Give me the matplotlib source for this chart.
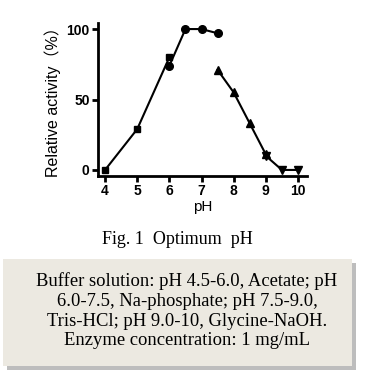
import matplotlib
matplotlib.use("Agg")
import matplotlib.pyplot as plt
from matplotlib.patches import Rectangle

# Data
acetate_ph = [4.0, 5.0, 6.0]
acetate_act = [0, 29, 80]
phosphate_ph = [6.0, 6.5, 7.0, 7.5]
phosphate_act = [74, 100, 100, 97]
tris_ph = [7.5, 8.0, 8.5, 9.0]
tris_act = [71, 55, 33, 11]
glycine_ph = [9.0, 9.5, 10.0]
glycine_act = [10, 0, 0]

xticks = [4, 5, 6, 7, 8, 9, 10]
yticks = [0, 50, 100]

caption = "Fig. 1  Optimum  pH"
note_lines = [
    "Buffer solution: pH 4.5-6.0, Acetate; pH",
    "6.0-7.5, Na-phosphate; pH 7.5-9.0,",
    "Tris-HCl; pH 9.0-10, Glycine-NaOH.",
    "Enzyme concentration: 1 mg/mL",
]

W, H = 387, 386
fig = plt.figure(figsize=(W / 100, H / 100), dpi=100)
fig.patch.set_facecolor("white")

ax = fig.add_axes([98 / W, 1 - 176 / H, (307 - 98) / W, (176 - 23) / H])
lw = 1.5
ax.plot(acetate_ph, acetate_act, "k-", marker="s", ms=5, lw=lw)
ax.plot(phosphate_ph, phosphate_act, "k-", marker="o", ms=5.5, lw=lw)
ax.plot(tris_ph, tris_act, "k-", marker="^", ms=5.5, lw=lw)
ax.plot(glycine_ph, glycine_act, "k-", marker="v", ms=5.5, lw=lw)

ax.set_xlim(3.78, 10.28)
ax.set_ylim(-4.3, 104.3)
ax.set_xticks(xticks)
ax.set_yticks(yticks)
for s in ["top", "right"]:
    ax.spines[s].set_visible(False)
for s in ["left", "bottom"]:
    ax.spines[s].set_linewidth(2)
ax.tick_params(direction="out", length=4, width=2, pad=2)
for lab in ax.get_xticklabels() + ax.get_yticklabels():
    lab.set_fontfamily("Liberation Sans")
    lab.set_fontweight("bold")
    lab.set_fontsize(10)
ax.set_xlabel("pH", fontfamily="Liberation Sans", fontsize=11, labelpad=1)
ax.set_ylabel("Relative activity\uff08%\uff09", fontfamily=["Liberation Sans", "Noto Sans CJK SC"],
              fontsize=11.5)
ax.yaxis.set_label_coords(-0.175, 0.51)

fig.text(177 / W, 1 - 240 / H, caption, ha="center", va="center",
         fontfamily="Liberation Serif", fontsize=13)

# Note box with shadow
bx0, by0, bx1, by1 = 3, 259, 352, 366
shadow = Rectangle(((bx0 + 4) / W, 1 - (by1 + 4) / H), (bx1 - bx0) / W, (by1 - by0) / H,
                   transform=fig.transFigure, facecolor="#bdbdbd", edgecolor="none", zorder=0)
box = Rectangle((bx0 / W, 1 - by1 / H), (bx1 - bx0) / W, (by1 - by0) / H,
                transform=fig.transFigure, facecolor="#ece9e1", edgecolor="none", zorder=1)
fig.patches.extend([shadow, box])
baselines = [286.5, 306, 325.5, 345]
for line, y in zip(note_lines, baselines):
    fig.text(187 / W, 1 - y / H, line, ha="center", va="baseline",
             fontfamily="Liberation Serif", fontsize=13.4, zorder=2)

fig.savefig("out.png", dpi=100)
